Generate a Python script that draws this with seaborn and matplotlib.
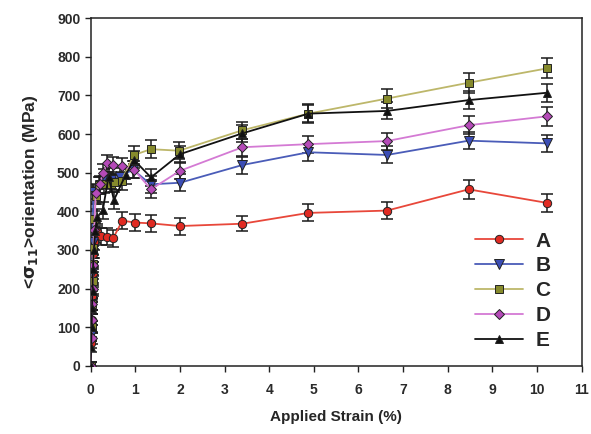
import matplotlib
matplotlib.use("Agg")
import matplotlib.pyplot as plt
import seaborn as sns
import pandas as pd

# Orientation-averaged stress <sigma_11> vs applied strain for five grain sets
labels = ["A", "B", "C", "D", "E"]

strain_a = [0, 0.01, 0.02, 0.03, 0.04, 0.05, 0.07, 0.1, 0.13, 0.24, 0.36, 0.5, 0.71, 0.99, 1.34, 2.0, 3.4, 4.88, 6.64, 8.47, 10.22]
stress_a = [0, 60, 120, 180, 240, 290, 320, 338, 347, 336, 334, 330, 376, 371, 369, 362, 368, 396, 402, 457, 422]
err_a = [10, 15, 15, 15, 15, 20, 20, 20, 20, 22, 22, 22, 22, 22, 22, 22, 20, 22, 22, 24, 24]

strain_b = [0, 0.01, 0.02, 0.03, 0.04, 0.06, 0.1, 0.2, 0.3, 0.45, 0.65, 0.95, 1.34, 2.0, 3.4, 4.88, 6.64, 8.47, 10.22]
stress_b = [0, 80, 160, 240, 320, 451, 440, 468, 488, 480, 490, 508, 470, 474, 520, 553, 546, 583, 576]
err_b = [10, 15, 15, 15, 18, 20, 20, 22, 22, 22, 22, 22, 22, 22, 22, 22, 22, 22, 22]

strain_c = [0, 0.02, 0.03, 0.04, 0.05, 0.06, 0.08, 0.12, 0.19, 0.3, 0.45, 0.55, 0.69, 0.97, 1.35, 1.98, 3.4, 4.88, 6.64, 8.47, 10.22]
stress_c = [0, 101, 160, 220, 265, 304, 380, 440, 468, 470, 472, 476, 479, 546, 561, 557, 610, 653, 692, 733, 770]
err_c = [10, 15, 15, 15, 15, 18, 20, 22, 22, 22, 22, 22, 24, 24, 24, 22, 22, 24, 24, 26, 26]

strain_d = [0, 0.02, 0.03, 0.035, 0.04, 0.06, 0.08, 0.11, 0.2, 0.28, 0.37, 0.51, 0.69, 0.97, 1.35, 2.0, 3.4, 4.88, 6.64, 8.47, 10.22]
stress_d = [0, 72, 120, 160, 200, 260, 352, 447, 470, 500, 524, 520, 517, 508, 457, 505, 566, 574, 582, 623, 646]
err_d = [10, 15, 15, 15, 15, 18, 20, 22, 22, 22, 22, 22, 22, 22, 22, 22, 22, 22, 22, 24, 24]

strain_e = [0, 0.01, 0.02, 0.03, 0.04, 0.05, 0.07, 0.1, 0.15, 0.27, 0.4, 0.52, 0.78, 0.97, 1.35, 2.0, 3.4, 4.88, 6.64, 8.47, 10.22]
stress_e = [0, 50, 100, 150, 195, 250, 300, 350, 385, 403, 490, 429, 494, 533, 488, 548, 602, 653, 660, 688, 707]
err_e = [10, 15, 15, 15, 15, 18, 20, 20, 22, 22, 22, 22, 22, 22, 22, 22, 22, 22, 22, 24, 24]

x_ticks = list(range(0, 12))
y_ticks = list(range(0, 1000, 100))

series = {
    "A": (strain_a, stress_a, err_a),
    "B": (strain_b, stress_b, err_b),
    "C": (strain_c, stress_c, err_c),
    "D": (strain_d, stress_d, err_d),
    "E": (strain_e, stress_e, err_e),
}

styles = {
    "A": dict(line="#e8473a", marker="o", face="#e02a22", size=6),
    "B": dict(line="#4a5cb8", marker="v", face="#3b4db5", size=6.5),
    "C": dict(line="#bdb76a", marker="s", face="#868a2c", size=6),
    "D": dict(line="#d47ad4", marker="D", face="#b54ab8", size=5.5),
    "E": dict(line="#111111", marker="^", face="#111111", size=6),
}

sns.set_style("ticks")
plt.rcParams["font.family"] = ["Liberation Sans", "DejaVu Sans"]
plt.rcParams["font.weight"] = "bold"

fig = plt.figure(figsize=(5.91, 4.34), dpi=100)
ax = fig.add_axes([0.1535, 0.157, 0.8305, 0.801])

for name in labels:
    xs, ys, es = series[name]
    df = pd.DataFrame({"strain": xs, "stress": ys})
    st = styles[name]
    ax.errorbar(xs, ys, yerr=es, fmt="none", ecolor="#1a1a1a",
                elinewidth=1.1, capsize=4, capthick=1.1, zorder=2)
    sns.lineplot(data=df, x="strain", y="stress", ax=ax, sort=False,
                 estimator=None, color=st["line"], linewidth=1.3,
                 marker=st["marker"], markersize=st["size"],
                 markerfacecolor=st["face"], markeredgecolor="#222222",
                 markeredgewidth=0.7, label=name, zorder=3)

ax.set_xlim(0, 11)
ax.set_ylim(0, 900)
ax.set_xticks(x_ticks)
ax.set_yticks(y_ticks)
ax.tick_params(direction="out", length=4, width=1, labelsize=10, colors="#222222")
ax.tick_params(axis="x", pad=8)
for lab in ax.get_xticklabels() + ax.get_yticklabels():
    lab.set_fontweight("bold")
    lab.set_color("#2a2a2a")
for sp in ax.spines.values():
    sp.set_visible(True)
    sp.set_linewidth(1.1)
    sp.set_color("#222222")

ax.set_xlabel("Applied Strain (%)", fontsize=11, fontweight="bold", labelpad=10)
ax.set_ylabel(r"<$\mathbf{\sigma_{11}}$>orientation (MPa)", fontsize=12.5,
              fontweight="bold", labelpad=12)

leg = ax.legend(loc="upper left", bbox_to_anchor=(0.745, 0.44), frameon=False,
                prop={"weight": "bold", "size": 15}, handlelength=2.3,
                labelspacing=0.28, handletextpad=0.6)

fig.savefig("out.png", dpi=100)
